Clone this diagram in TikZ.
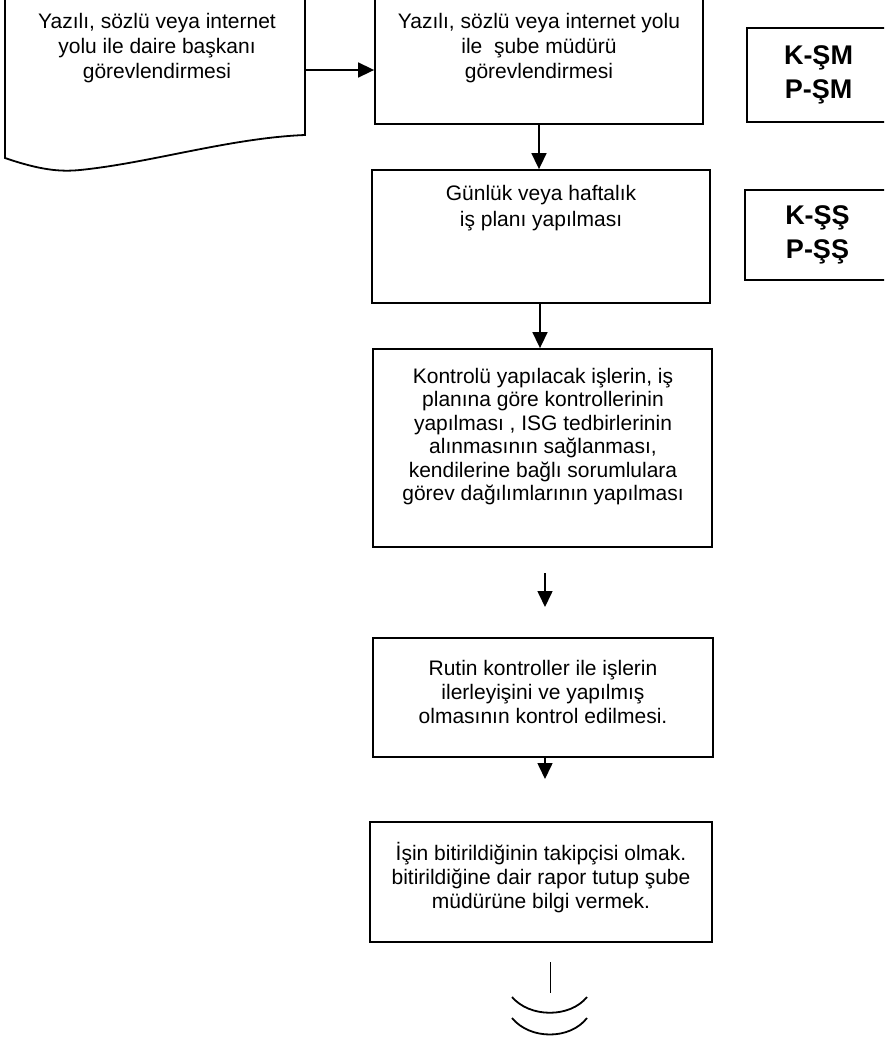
\documentclass[tikz,border=0pt]{standalone}
\usepackage{fontspec}
\setmainfont{Liberation Sans}
\usetikzlibrary{arrows.meta}
\begin{document}
\begin{tikzpicture}[x=1pt,y=-1pt,
  box/.style={draw, line width=1.8pt, inner sep=0pt},
  txt/.style={align=center, inner sep=0pt},
  codebox/.style={draw, line width=1.8pt, align=center, inner sep=0pt,
    font=\fontsize{27}{34}\selectfont\bfseries},
  arr/.style={line width=1.6pt, -{Triangle[length=16pt,width=15pt]}}]
\useasboundingbox (0,0) rectangle (884,1042);
\clip (0,0) rectangle (884,1042);
% document shape
\draw[line width=1.8pt] (5,-10) -- (5,158)
  .. controls (40,170) and (60,172) .. (80,170)
  .. controls (150,163) and (230,138) .. (305,135) -- (305,-10);
\node[txt, font=\fontsize{21}{25}\selectfont] (t1) at (157,48)
  {Yazılı, sözlü veya internet\\yolu ile daire başkanı\\görevlendirmesi};
\coordinate (docE) at (305,70);
% boxes
\node[box, minimum width=328pt, minimum height=155pt] (b2) at (539,46.5) {};
\node[txt, font=\fontsize{21}{25}\selectfont] (t2) at (539,48)
  {Yazılı, sözlü veya internet yolu\\ile \ şube müdürü\\görevlendirmesi};
\node[box, minimum width=338pt, minimum height=133pt] (b3) at (541,236.5) {};
\node[txt, font=\fontsize{21}{26}\selectfont] (t3) at (541,208)
  {Günlük veya haftalık\\iş planı yapılması};
\node[box, minimum width=339pt, minimum height=198pt] (b4) at (542.5,448) {};
\node[txt, font=\fontsize{21}{23.4}\selectfont] (t4) at (543,436.5)
  {Kontrolü yapılacak işlerin, iş\\planına göre kontrollerinin\\yapılması , ISG tedbirlerinin\\alınmasının sağlanması,\\kendilerine bağlı sorumlulara\\görev dağılımlarının yapılması};
\node[box, minimum width=340pt, minimum height=119pt] (b5) at (543,697.5) {};
\node[txt, font=\fontsize{21}{24}\selectfont] (t5) at (543,692)
  {Rutin kontroller ile işlerin\\ilerleyişini ve yapılmış\\olmasının kontrol edilmesi.};
\node[box, minimum width=342pt, minimum height=120pt] (b6) at (541,882) {};
\node[txt, font=\fontsize{21}{24}\selectfont] (t6) at (541,878)
  {İşin bitirildiğinin takipçisi olmak.\\bitirildiğine dair rapor tutup şube\\müdürüne bilgi vermek.};
% code boxes
\node[codebox, minimum width=143pt, minimum height=94pt] (k1) at (818.5,75) {K-ŞM\\P-ŞM};
\node[codebox, minimum width=145pt, minimum height=90pt] (k2) at (817.5,235) {K-ŞŞ\\P-ŞŞ};
% arrows
\draw[arr] (docE) -- (docE -| b2.west);
\draw[arr] (b2.south) -- (b2.south |- b3.north);
\draw[arr] ([xshift=-1pt]b3.south) -- ([xshift=-1pt]b3.south |- b4.north);
\coordinate (f1) at (545,573);
\coordinate (f2) at (545,607);
\draw[arr] (f1) -- (f2);
\coordinate (f3) at (545,779);
\draw[arr] (b5.south -| f3) -- (f3);
% end symbol
\coordinate (e1) at (550,962);
\coordinate (e2) at (550,993);
\draw[line width=1pt] (e1) -- (e2);
\draw[line width=1.8pt] (512,997) .. controls (530,1018) and (570,1018) .. (587,997);
\draw[line width=1.8pt] (512,1018) .. controls (530,1040) and (570,1040) .. (587,1018);
\end{tikzpicture}
\end{document}
